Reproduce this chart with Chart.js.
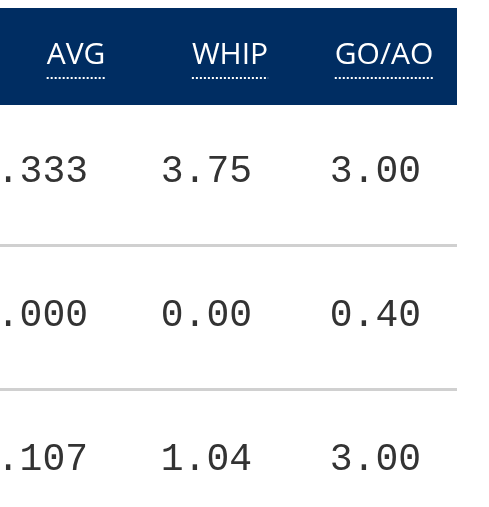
<!DOCTYPE html>
<html>
<head>
<meta charset="utf-8">
<script src="https://cdn.jsdelivr.net/npm/chart.js@4/dist/chart.umd.min.js"></script>
<style>
  html, body { margin: 0; padding: 0; background: #fff; overflow: hidden; }
  #wrap { width: 489px; height: 507px; }
</style>
</head>
<body>
<div id="wrap"><canvas id="tbl"></canvas></div>
<script>
// Dane tabeli
const columns = ['AVG', 'WHIP', 'GO/AO'];
const avgValues = ['.333', '.000', '.107'];
const whipValues = ['3.75', '0.00', '1.04'];
const goaoValues = ['3.00', '0.40', '3.00'];

const valueColumns = [avgValues, whipValues, goaoValues];
const rowCount = avgValues.length;

// Punkty komórek (indeks kolumny, indeks wiersza)
const cells = [];
valueColumns.forEach((vals, c) => vals.forEach((v, r) => cells.push({ x: c, y: r, text: v })));

// Rysowanie tabeli jako wtyczka
const tablePlugin = {
  id: 'tablePlugin',
  beforeDatasetsDraw(chart) {
    const { ctx, scales: { x, y } } = chart;
    const right = 457;
    ctx.save();
    // nagłówek
    ctx.fillStyle = '#002d62';
    ctx.fillRect(0, 8, right, 97);
    ctx.font = '30px "Open Sans", sans-serif';
    ctx.fillStyle = '#ffffff';
    ctx.textAlign = 'center';
    ctx.textBaseline = 'middle';
    const hy = y.getPixelForValue(-0.81);
    columns.forEach((name, i) => {
      const cx = x.getPixelForValue(i);
      ctx.fillText(name, cx, hy);
      const w = ctx.measureText(name).width;
      ctx.strokeStyle = '#ffffff';
      ctx.lineWidth = 2;
      ctx.setLineDash([2, 2]);
      ctx.beginPath();
      ctx.moveTo(cx - w / 2, 78);
      ctx.lineTo(cx + w / 2, 78);
      ctx.stroke();
    });
    ctx.setLineDash([]);
    // linie oddzielające wiersze
    ctx.strokeStyle = '#d0d0d0';
    ctx.lineWidth = 3;
    for (let r = 0; r < rowCount - 1; r++) {
      const ly = y.getPixelForValue(r + 0.51);
      ctx.beginPath();
      ctx.moveTo(0, ly);
      ctx.lineTo(right, ly);
      ctx.stroke();
    }
    ctx.restore();
  },
  afterDatasetsDraw(chart) {
    const { ctx } = chart;
    const shift = [12, 22, 37];
    const meta = chart.getDatasetMeta(0);
    ctx.save();
    ctx.font = '38px "Liberation Mono", monospace';
    ctx.fillStyle = '#333333';
    ctx.textAlign = 'right';
    ctx.textBaseline = 'middle';
    meta.data.forEach((pt, i) => {
      const cell = cells[i];
      ctx.fillText(cell.text, pt.x + shift[cell.x], pt.y);
    });
    ctx.restore();
  }
};

new Chart(document.getElementById('tbl'), {
  type: 'scatter',
  data: { datasets: [{ data: cells.map(c => ({ x: c.x, y: c.y })), pointRadius: 0 }] },
  options: {
    responsive: true,
    maintainAspectRatio: false,
    animation: false,
    layout: { padding: 0 },
    plugins: { legend: { display: false }, tooltip: { enabled: false } },
    scales: {
      x: { type: 'linear', min: -76 / 154, max: (489 - 76) / 154, display: false },
      y: { type: 'linear', reverse: true, min: -172 / 144, max: (507 - 172) / 144, display: false }
    }
  },
  plugins: [tablePlugin]
});
</script>
</body>
</html>
